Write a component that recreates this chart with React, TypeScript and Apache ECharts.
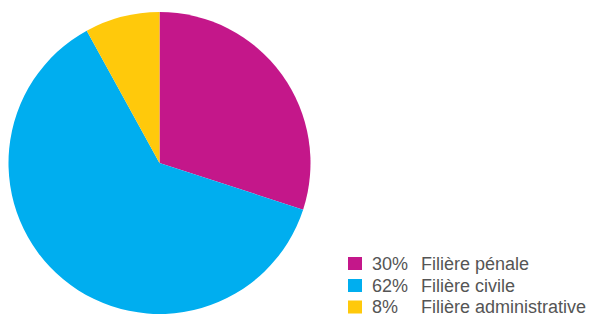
import React, { useEffect, useRef } from "react";
import * as echarts from "echarts";

const categories = ["Filière pénale", "Filière civile", "Filière administrative"];
const values = [30, 62, 8];
const colors = ["#C4178A", "#00AEEF", "#FFC90B"];

export default function App() {
  const ref = useRef<HTMLDivElement>(null);
  useEffect(() => {
    if (!ref.current) return;
    const chart = echarts.init(ref.current, null, { renderer: "svg" });
    const pct: Record<string, number> = {};
    categories.forEach((c, i) => (pct[c] = values[i]));
    const rowTops = [254.5, 276.5, 298];
    const legends = categories.map((c, i) => ({
      orient: "vertical",
      left: 348,
      top: rowTops[i],
      padding: 0,
      itemWidth: 14,
      itemHeight: 13,
      icon: "rect",
      selectedMode: false,
      data: [c],
      formatter: (name: string) => `{p|${pct[name]}%}{n|${name}}`,
      textStyle: {
        fontFamily: "Liberation Sans, Arial, sans-serif",
        fontSize: 18,
        color: "#555555",
        rich: {
          p: { width: 49, padding: [0, 0, 0, 5], fontSize: 18, color: "#555555", lineHeight: 18 },
          n: { fontSize: 18, color: "#555555", lineHeight: 18 },
        },
      },
    }));
    chart.setOption({
      animation: false,
      legend: legends,
      series: [
        {
          type: "pie",
          center: [159.5, 163],
          radius: 151,
          startAngle: 90,
          clockwise: true,
          label: { show: false },
          labelLine: { show: false },
          emphasis: { disabled: true },
          itemStyle: { borderWidth: 0 },
          data: categories.map((c, i) => ({ name: c, value: values[i], itemStyle: { color: colors[i] } })),
        },
      ],
    });
    return () => chart.dispose();
  }, []);
  return (
    <div
      ref={ref}
      style={{ position: "fixed", left: 0, top: 0, width: 590, height: 316, background: "#fff" }}
    />
  );
}
